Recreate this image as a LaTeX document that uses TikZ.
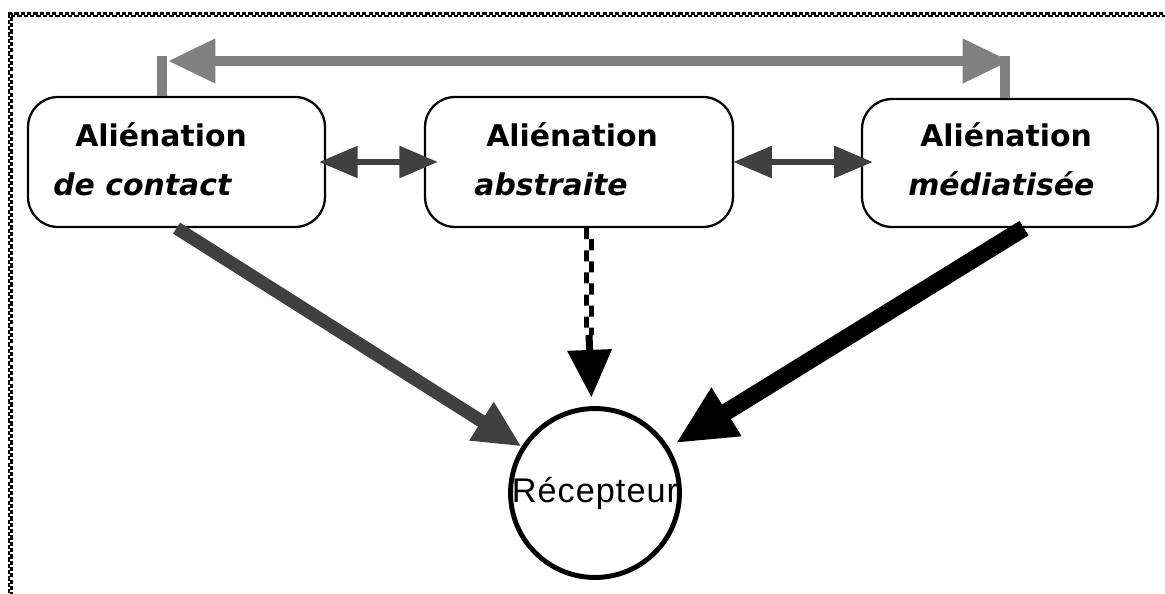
\documentclass[tikz,border=0pt]{standalone}
\usepackage{fontspec}
\newfontfamily\boxfont{DejaVu Sans}
\newfontfamily\recfont[LetterSpace=3]{Liberation Sans}
\usetikzlibrary{arrows.meta, positioning}
\definecolor{lightarr}{HTML}{808080}
\definecolor{darkarr}{HTML}{404040}

\begin{document}
\begin{tikzpicture}[x=0.02cm, y=-0.02cm,
  every node/.style={inner sep=0pt},
  box/.style={rectangle, draw, line width=1.3pt, rounded corners=0.6cm,
    minimum height=2.6cm},
  head/.style={font=\boxfont\fontsize{17}{20}\selectfont\bfseries, anchor=base west},
  sub/.style={head, font=\boxfont\fontsize{17}{20}\selectfont\bfseries\itshape},
  recv/.style={circle, draw, line width=2.8pt, minimum size=3.36cm,
    font=\recfont\fontsize{19.5}{22}\selectfont},
  stub/.style={lightarr, line width=5.7pt},
  toparr/.style={stub, >={Triangle[length=27pt,width=24pt]}, <->},
  sidearr/.style={darkarr, line width=3.4pt, >={Triangle[length=22pt,width=17.6pt]}, <->},
  leftarr/.style={darkarr, line width=7.4pt, >={Triangle[length=27pt,width=24pt]}, ->},
  rightarr/.style={black, line width=9.7pt, >={Triangle[length=34pt,width=30pt]}, ->},
  midarr/.style={black, line width=4pt, >={Triangle[length=27pt,width=24.5pt]}, ->},
  ckL/.style={line width=2.8pt, dash pattern=on 6.3pt off 6.3pt},
  ckR/.style={ckL, dash phase=6.3pt},
  frA/.style={line width=1.3pt, dash pattern=on 2.4pt off 1.2pt},
  frB/.style={frA, dash phase=1.8pt}]

\useasboundingbox (0,0) rectangle (1165,594);

% frame
\draw[frA] (8,13.5) -- (1165,13.5);
\draw[frB] (8,16) -- (1165,16);
\draw[frA] (9,13.5) -- (9,594);
\draw[frB] (11.5,13.5) -- (11.5,594);

\node[box, minimum width=5.94cm] (b1) at (176.5,162) {};
\node[box, minimum width=6.16cm] (b2) at (579,162) {};
\node[box, minimum width=5.92cm, minimum height=2.56cm] (b3) at (1010,163) {};

\node[head] (b1a) at (75,147) {Aliénation};
\node[sub] (b1b) at (53,196) {de contact};
\node[head] (b2a) at (486,147) {Aliénation};
\node[sub] (b2b) at (474,196) {abstraite};
\node[head] (b3a) at (920,147) {Aliénation};
\node[sub] (b3b) at (908,196) {médiatisée};

\node[recv] (rc) at (595,493) {Récepteur};

\coordinate (t1) at (168,61);
\coordinate (t3) at (1010,61);
\coordinate (d1) at (589,335);

\draw[stub] (b1.north -| 162,0) -- (162,56);
\draw[stub] (b3.north -| 1005,0) -- (1005,56);
\draw[toparr] (t1) -- (t3);

\draw[sidearr, shorten <=-4pt, shorten >=-8pt] (b1.east) -- (b2.west);
\draw[sidearr, shorten <=-0.5pt, shorten >=-6.8pt] (b2.east) -- (b3.west |- b2.east);

\draw[leftarr] (b1.south) -- (rc);
\draw[rightarr, shorten >=4.5pt] ([xshift=0.28cm]b3.south) -- (rc);
\draw[ckL] ([xshift=0.15cm]b2.south) -- ([xshift=-0.05cm]d1);
\draw[ckR] ([xshift=0.25cm]b2.south) -- ([xshift=0.05cm]d1);
\draw[midarr, shorten >=5pt] (d1) -- (rc);

\end{tikzpicture}
\end{document}
